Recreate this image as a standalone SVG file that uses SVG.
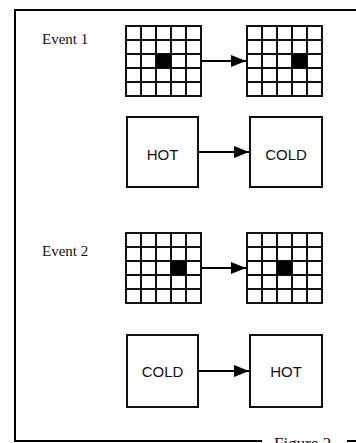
<svg xmlns="http://www.w3.org/2000/svg" width="356" height="443" viewBox="0 0 356 443">
<style>
.frame{fill:none;stroke:#000;stroke-width:2}
.grid{fill:#fff;stroke:#111;stroke-width:2}
.cell{fill:#000}
.box{fill:#fff;stroke:#111;stroke-width:2}
.conn{fill:none;stroke:#000;stroke-width:2}
.lbl{font-family:"Liberation Serif","Times New Roman",serif;font-size:15px;fill:#111}
.fig{font-family:"Liberation Serif","Times New Roman",serif;font-size:17px;fill:#111}
.btxt{font-family:"Liberation Sans",Arial,sans-serif;font-size:15px;fill:#111;text-anchor:middle}
</style>
<defs>
<marker id="ah" markerUnits="userSpaceOnUse" markerWidth="16" markerHeight="12" refX="15" refY="6" orient="auto">
<path d="M0,0 L15,6 L0,12 Z" fill="#000"/>
</marker>
<g id="gridshape">
<rect class="grid" x="0" y="0" width="75" height="70"/>
<path class="grid" d="M15,0V70M30,0V70M45,0V70M60,0V70M0,14H75M0,28H75M0,42H75M0,56H75"/>
</g>
</defs>
<rect width="356" height="443" fill="#fff"/>
<g id="frame">
<path class="frame" d="M356,10H15V441H262"/>
<path class="frame" d="M347,441H356"/>
<text class="fig" x="274" y="449">Figure 2</text>
</g>
<text class="lbl" x="42" y="44">Event 1</text>
<text class="lbl" x="42" y="256">Event 2</text>
<g id="grid1">
<use href="#gridshape" x="126" y="26"/>
<rect class="cell" x="156" y="54" width="15" height="14"/>
</g>
<g id="grid2">
<use href="#gridshape" x="247" y="26"/>
<rect class="cell" x="292" y="54" width="15" height="14"/>
</g>
<g id="hot1">
<rect class="box" x="127" y="117" width="71" height="70"/>
<text class="btxt" x="162.5" y="160">HOT</text>
</g>
<g id="cold1">
<rect class="box" x="250" y="117" width="72" height="70"/>
<text class="btxt" x="286" y="160">COLD</text>
</g>
<g id="grid3">
<use href="#gridshape" x="126" y="233"/>
<rect class="cell" x="171" y="261" width="15" height="14"/>
</g>
<g id="grid4">
<use href="#gridshape" x="247" y="233"/>
<rect class="cell" x="277" y="261" width="15" height="14"/>
</g>
<g id="cold2">
<rect class="box" x="127" y="335" width="71" height="72"/>
<text class="btxt" x="162.5" y="377">COLD</text>
</g>
<g id="hot2">
<rect class="box" x="250" y="335" width="72" height="72"/>
<text class="btxt" x="286" y="377">HOT</text>
</g>
<g id="connectors">
<path class="conn" d="M201,61H246" marker-end="url(#ah)"/>
<path class="conn" d="M198,152H249" marker-end="url(#ah)"/>
<path class="conn" d="M201,268H246" marker-end="url(#ah)"/>
<path class="conn" d="M198,371H249" marker-end="url(#ah)"/>
</g>
</svg>
